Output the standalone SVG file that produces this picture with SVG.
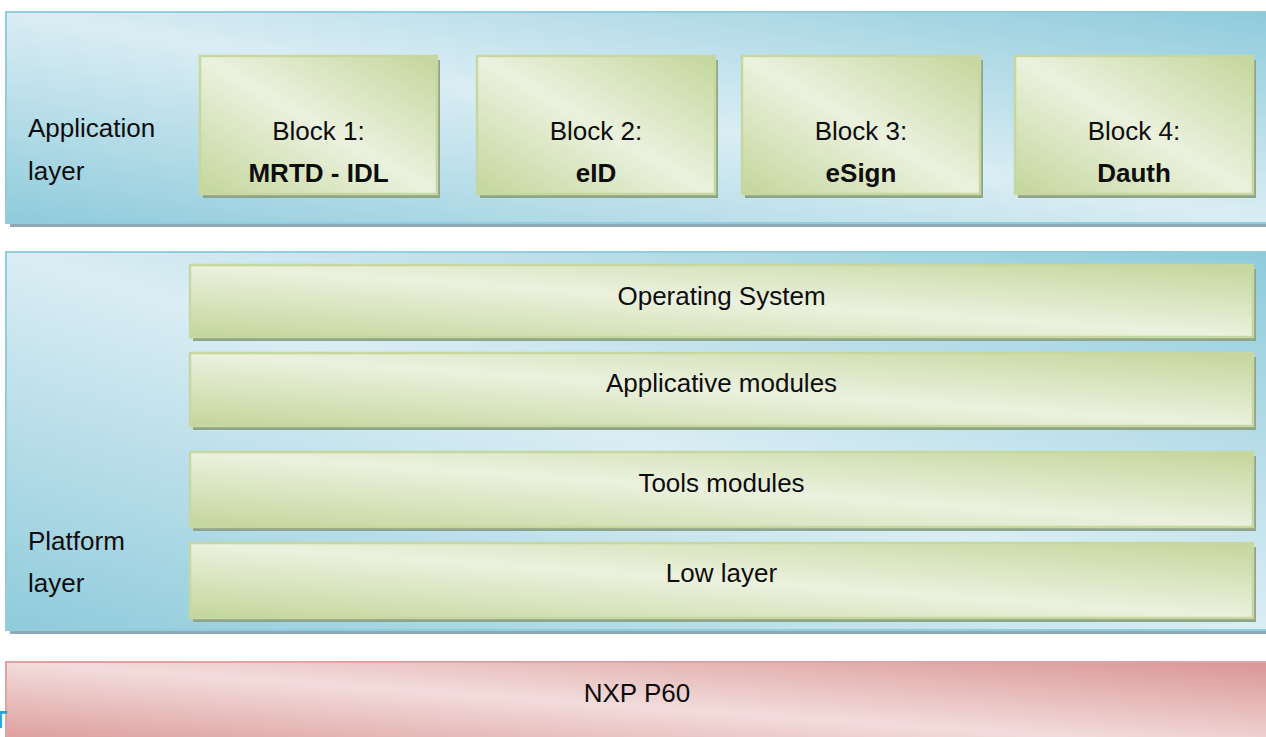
<svg xmlns="http://www.w3.org/2000/svg" width="1266" height="737" viewBox="0 0 1266 737">
  <defs>
    <linearGradient id="gBlue" x1="1" y1="0" x2="0" y2="1">
      <stop offset="0" stop-color="#8fcbdb"/>
      <stop offset="0.5" stop-color="#daedf4"/>
      <stop offset="1" stop-color="#8fcbdb"/>
    </linearGradient>
    <linearGradient id="gGreen" x1="1" y1="0" x2="0" y2="1">
      <stop offset="0" stop-color="#c3d69b"/>
      <stop offset="0.5" stop-color="#ebf1de"/>
      <stop offset="1" stop-color="#c3d69b"/>
    </linearGradient>
    <linearGradient id="gPink" x1="1" y1="0" x2="0" y2="1">
      <stop offset="0" stop-color="#d99594"/>
      <stop offset="0.5" stop-color="#f2dcdb"/>
      <stop offset="1" stop-color="#d99594"/>
    </linearGradient>
  </defs>
  <style>
    .panel { fill: url(#gBlue); stroke: #93cddd; stroke-width: 2; }
    .pshadow { fill: #8eaab3; }
    .box { fill: url(#gGreen); stroke: #c6d89f; stroke-width: 2.5; }
    .bshadow { fill: #8ea58b; }
    .chip { fill: url(#gPink); stroke: #e0a3a3; stroke-width: 2; }
    text { font-family: "Liberation Sans", Arial, sans-serif; font-size: 26px; fill: #0d0d0d; }
    .c { text-anchor: middle; }
    .b { font-weight: bold; }
  </style>
  <rect width="1266" height="737" fill="#ffffff"/>

  <g id="application-layer">
    <rect class="pshadow" x="10" y="16" width="1270" height="211"/>
    <rect class="panel" x="6" y="12" width="1270" height="211"/>
    <text x="28" y="137">Application</text>
    <text x="28" y="180">layer</text>
  </g>

  <g id="block1">
    <rect class="bshadow" x="203" y="60" width="237" height="138"/>
    <rect class="box" x="200" y="56" width="237" height="138"/>
    <text class="c" x="318.5" y="140">Block 1:</text>
    <text class="c b" x="318.5" y="182">MRTD - IDL</text>
  </g>
  <g id="block2">
    <rect class="bshadow" x="480" y="60" width="238" height="138"/>
    <rect class="box" x="477" y="56" width="238" height="138"/>
    <text class="c" x="596" y="140">Block 2:</text>
    <text class="c b" x="596" y="182">eID</text>
  </g>
  <g id="block3">
    <rect class="bshadow" x="745" y="60" width="238" height="138"/>
    <rect class="box" x="742" y="56" width="238" height="138"/>
    <text class="c" x="861" y="140">Block 3:</text>
    <text class="c b" x="861" y="182">eSign</text>
  </g>
  <g id="block4">
    <rect class="bshadow" x="1018" y="60" width="238" height="138"/>
    <rect class="box" x="1015" y="56" width="238" height="138"/>
    <text class="c" x="1134" y="140">Block 4:</text>
    <text class="c b" x="1134" y="182">Dauth</text>
  </g>

  <g id="platform-layer">
    <rect class="pshadow" x="10" y="256" width="1270" height="378"/>
    <rect class="panel" x="6" y="252" width="1270" height="378"/>
    <text x="28" y="550">Platform</text>
    <text x="28" y="592">layer</text>
  </g>

  <g id="operating-system">
    <rect class="bshadow" x="193" y="269" width="1063" height="72"/>
    <rect class="box" x="190" y="265" width="1063" height="72"/>
    <text class="c" x="721.5" y="305">Operating System</text>
  </g>
  <g id="applicative-modules">
    <rect class="bshadow" x="193" y="357" width="1063" height="73"/>
    <rect class="box" x="190" y="353" width="1063" height="73"/>
    <text class="c" x="721.5" y="392">Applicative modules</text>
  </g>
  <g id="tools-modules">
    <rect class="bshadow" x="193" y="456" width="1063" height="75"/>
    <rect class="box" x="190" y="452" width="1063" height="75"/>
    <text class="c" x="721.5" y="492">Tools modules</text>
  </g>
  <g id="low-layer">
    <rect class="bshadow" x="193" y="547" width="1063" height="75"/>
    <rect class="box" x="190" y="543" width="1063" height="75"/>
    <text class="c" x="721.5" y="582">Low layer</text>
  </g>

  <g id="nxp-p60">
    <rect class="chip" x="6" y="662" width="1270" height="90"/>
    <text class="c" x="637" y="702">NXP P60</text>
  </g>

  <g id="connectors"></g>

  <text x="0" y="728" text-anchor="middle" style="font-size:23px;fill:#2a9fdc;font-weight:bold">T</text>
</svg>
